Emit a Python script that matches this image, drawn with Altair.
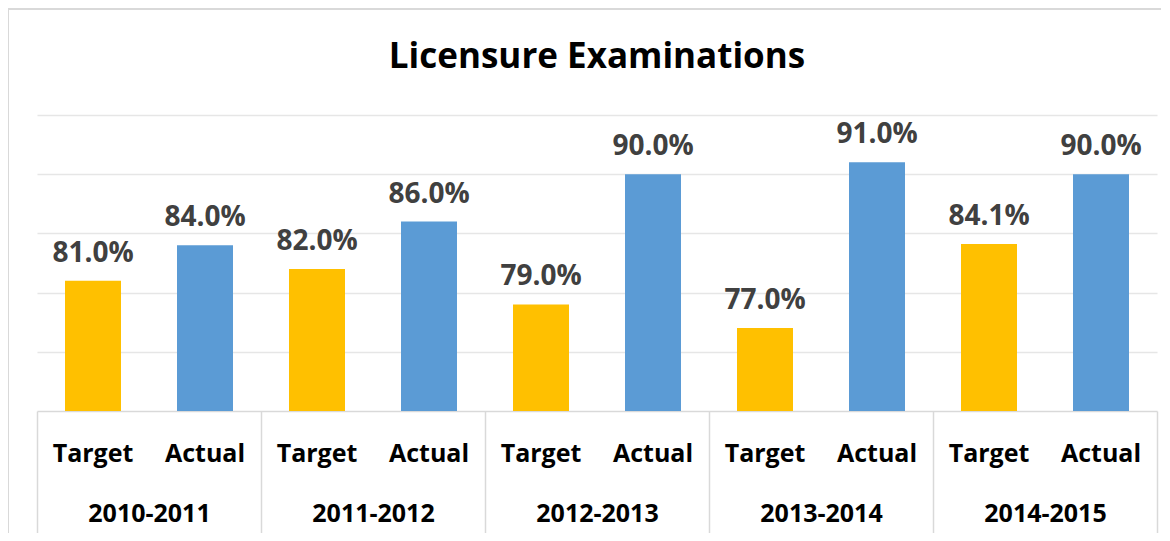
import altair as alt
import pandas as pd

years = ["2010-2011", "2011-2012", "2012-2013", "2013-2014", "2014-2015"]
kinds = ["Target", "Actual"]
target = [81.0, 82.0, 79.0, 77.0, 84.1]
actual = [84.0, 86.0, 90.0, 91.0, 90.0]
grid_values = [75, 80, 85, 90, 95]

rows = []
for y, t, a in zip(years, target, actual):
    rows.append({"year": y, "kind": "Target", "value": t, "key": y + "|Target"})
    rows.append({"year": y, "kind": "Actual", "value": a, "key": y + "|Actual"})
df = pd.DataFrame(rows)
key_order = list(df["key"])
ydf = pd.DataFrame({"year": years})

W, H = 1120, 296
FONT = "Open Sans"

xkey = alt.X(
    "key:N",
    sort=key_order,
    scale=alt.Scale(paddingInner=0.5, paddingOuter=0.25),
    axis=alt.Axis(
        orient="bottom",
        title=None,
        domain=False,
        ticks=False,
        tickSize=0,
        labelAngle=0,
        labelExpr="split(datum.label, '|')[1]",
        labelFont=FONT,
        labelFontSize=25,
        labelFontWeight="bold",
        labelColor="#000000",
        labelPadding=42,
        labelBaseline="middle",
    ),
)
yenc = alt.Y(
    "value:Q",
    scale=alt.Scale(domain=[70, 95], nice=False, zero=False),
    axis=alt.Axis(
        title=None,
        values=grid_values,
        grid=True,
        gridColor="#e6e6e6",
        gridWidth=1.5,
        domain=False,
        ticks=False,
        labels=False,
    ),
)

bars = alt.Chart(df).mark_bar(clip=True).encode(
    x=xkey,
    y=yenc,
    color=alt.Color(
        "kind:N",
        scale=alt.Scale(domain=kinds, range=["#FFC000", "#5B9BD5"]),
        legend=None,
    ),
)

labels = alt.Chart(df).transform_calculate(
    lbl="format(datum.value, '.1f') + '%'"
).mark_text(
    font=FONT,
    fontSize=28,
    fontWeight="bold",
    color="#404040",
    baseline="alphabetic",
    dy=-19,
).encode(
    x=alt.X("key:N", sort=key_order),
    y=alt.Y("value:Q"),
    text="lbl:N",
)

border = alt.Chart(ydf).mark_rect(
    fill=None, stroke="#d9d9d9", strokeWidth=2
).encode(
    x=alt.value(-29),
    x2=alt.value(W + 60),
    y=alt.value(-106),
    y2=alt.value(H + 160),
)

main = alt.layer(border, bars, labels)

year_layer = alt.Chart(ydf).mark_point(opacity=0).encode(
    x=alt.X(
        "year:N",
        sort=years,
        scale=alt.Scale(paddingInner=0, paddingOuter=0),
        axis=alt.Axis(
            orient="bottom",
            title=None,
            domain=True,
            domainColor="#d9d9d9",
            domainWidth=1.5,
            ticks=True,
            tickBand="extent",
            tickColor="#d9d9d9",
            tickWidth=1.5,
            tickSize=124,
            labelAngle=0,
            labelFont=FONT,
            labelFontSize=25,
            labelFontWeight="bold",
            labelColor="#000000",
            labelPadding=-22,
            labelBaseline="middle",
        ),
    ),
    y=alt.value(0),
)

chart = (
    alt.layer(main, year_layer)
    .resolve_scale(x="independent")
    .resolve_axis(x="independent")
    .properties(
        width=W,
        height=H,
        autosize=alt.AutoSizeParams(type="none"),
        padding={"left": 29, "top": 107, "right": 4, "bottom": 122},
        title=alt.TitleParams(
            "Licensure Examinations",
            font=FONT,
            fontSize=35,
            fontWeight="bold",
            color="#000000",
            anchor="middle",
            frame="group",
            offset=-67,
        ),
    )
    .configure_view(stroke=None)
)

chart.save("out.html", embed_options={"renderer": "svg", "actions": False})
